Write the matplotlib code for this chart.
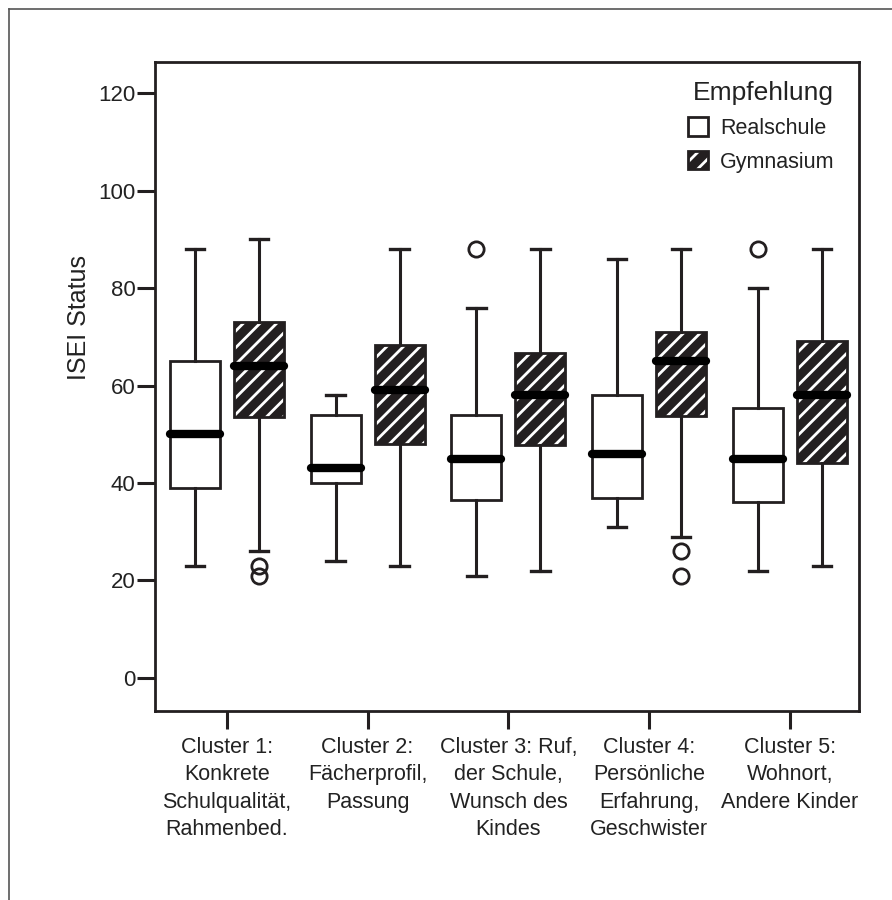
import matplotlib
matplotlib.use("Agg")
import matplotlib.pyplot as plt
from matplotlib.patches import Patch, PathPatch
from matplotlib.lines import Line2D

plt.rcParams["font.family"] = ["Liberation Sans", "DejaVu Sans"]
plt.rcParams["hatch.linewidth"] = 2.0

DARK = "#231f20"

CLUSTERS = [
    "Cluster 1:\nKonkrete\nSchulqualität,\nRahmenbed.",
    "Cluster 2:\nFächerprofil,\nPassung",
    "Cluster 3: Ruf,\nder Schule,\nWunsch des\nKindes",
    "Cluster 4:\nPersönliche\nErfahrung,\nGeschwister",
    "Cluster 5:\nWohnort,\nAndere Kinder",
]
GROUPS = ["Realschule", "Gymnasium"]

# box statistics per cluster: lower whisker, Q1, median, Q3, upper whisker
REAL_WHISLO = [23, 24, 21, 31, 22]
REAL_Q1 = [39, 40, 36.6, 37, 36]
REAL_MED = [50, 43, 45, 46, 45]
REAL_Q3 = [65, 54, 54, 58, 55.3]
REAL_WHISHI = [88, 58, 76, 86, 80]
REAL_FLIERS = [[], [], [88], [], [88]]

GYM_WHISLO = [26, 23, 22, 29, 23]
GYM_Q1 = [53.6, 48, 47.7, 53.7, 44]
GYM_MED = [64, 59, 58, 65, 58]
GYM_Q3 = [73, 68.3, 66.6, 71, 69.2]
GYM_WHISHI = [90, 88, 88, 88, 88]
GYM_FLIERS = [[23, 21], [], [], [26, 21], []]

Y_TICKS = [0, 20, 40, 60, 80, 100, 120]


def make_stats(lo, q1, med, q3, hi, fliers):
    return [
        dict(whislo=a, q1=b, med=c, q3=d, whishi=e, fliers=f)
        for a, b, c, d, e, f in zip(lo, q1, med, q3, hi, fliers)
    ]


def draw_group(ax, stats, positions, hatched):
    common = dict(
        positions=positions,
        widths=0.355,
        capwidths=0.13,
        patch_artist=True,
        whiskerprops=dict(color=DARK, linewidth=2.2),
        capprops=dict(color=DARK, linewidth=2.4),
        medianprops=dict(color="black", linewidth=6, solid_capstyle="round"),
        flierprops=dict(marker="o", markerfacecolor="none", markeredgecolor=DARK,
                        markersize=11, markeredgewidth=2),
    )
    if hatched:
        res = ax.bxp(stats, boxprops=dict(facecolor=DARK, edgecolor="white",
                                          hatch="//", linewidth=0), **common)
        for box in res["boxes"]:
            ax.add_patch(PathPatch(box.get_path(), fill=False, edgecolor=DARK,
                                   linewidth=2, zorder=box.get_zorder() + 0.1))
        for med in res["medians"]:
            med.set_zorder(box.get_zorder() + 0.2)
    else:
        ax.bxp(stats, boxprops=dict(facecolor="white", edgecolor=DARK,
                                    linewidth=2), **common)


def main():
    fig = plt.figure(figsize=(8.92, 9.0), dpi=100)
    ax = fig.add_axes([155 / 892, 1 - 711 / 900, 704 / 892, 649 / 900])

    x = list(range(len(CLUSTERS)))
    off = 0.227
    draw_group(ax, make_stats(REAL_WHISLO, REAL_Q1, REAL_MED, REAL_Q3, REAL_WHISHI, REAL_FLIERS),
               [i - off for i in x], hatched=False)
    draw_group(ax, make_stats(GYM_WHISLO, GYM_Q1, GYM_MED, GYM_Q3, GYM_WHISHI, GYM_FLIERS),
               [i + off for i in x], hatched=True)

    ax.set_xlim(-0.51, 4.49)
    ax.set_ylim(-6.8, 126.4)
    ax.set_xticks(x)
    ax.set_xticklabels(CLUSTERS, fontsize=15.5, color="#222222", linespacing=1.38)
    ax.set_yticks(Y_TICKS)
    ax.set_yticklabels([str(t) for t in Y_TICKS], fontsize=16, color="#222222")
    ax.tick_params(axis="x", length=13, width=2.2, color=DARK, pad=6)
    ax.tick_params(axis="y", length=13, width=2.2, color=DARK, pad=1)
    for sp in ax.spines.values():
        sp.set_linewidth(2)
        sp.set_color(DARK)

    fig.text(79 / 892, 1 - 317 / 900, "ISEI Status", rotation=90, ha="center",
             va="center", fontsize=18, color="#222222")

    real_handle = Patch(facecolor="white", edgecolor=DARK, linewidth=2)
    gym_handle = (Patch(facecolor=DARK, edgecolor="white", hatch="//", linewidth=0),
                  Patch(fill=False, edgecolor=DARK, linewidth=2))
    leg = ax.legend([real_handle, gym_handle], GROUPS, title="Empfehlung",
                    loc="upper right", bbox_to_anchor=(0.965, 0.97),
                    frameon=False, fontsize=15.5, title_fontsize=19,
                    handlelength=0.95, handleheight=0.95, handletextpad=0.55,
                    labelspacing=0.55, borderpad=0, borderaxespad=0,
                    alignment="right")
    for t in leg.get_texts():
        t.set_color("#222222")
    leg.get_title().set_color("#222222")

    # outer frame (left and top edges)
    fig.add_artist(Line2D([8.5 / 892, 8.5 / 892], [0, 1 - 9 / 900],
                          transform=fig.transFigure, color="#555555", linewidth=1.2))
    fig.add_artist(Line2D([8.5 / 892, 1], [1 - 9 / 900, 1 - 9 / 900],
                          transform=fig.transFigure, color="#555555", linewidth=1.2))

    fig.savefig("out.png", dpi=100)


if __name__ == "__main__":
    main()
